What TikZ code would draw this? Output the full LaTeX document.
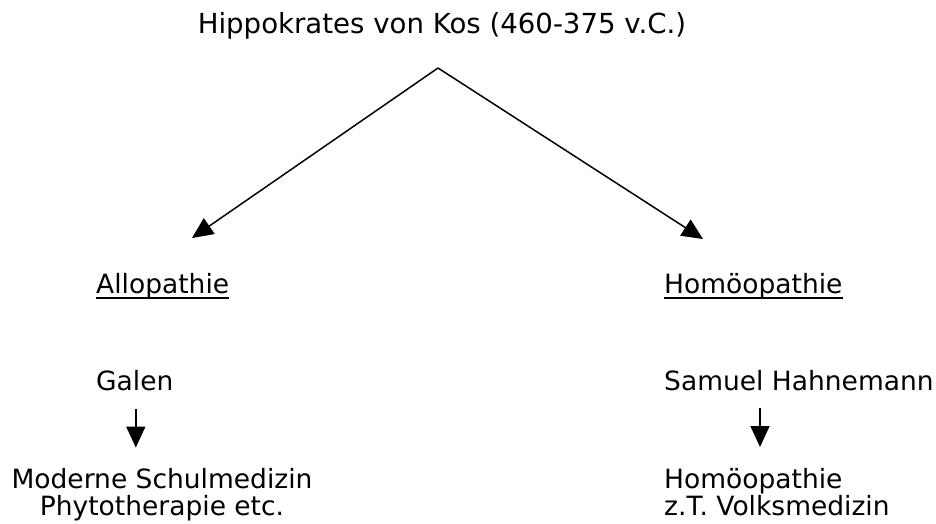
\documentclass[tikz,border=0pt]{standalone}
\usepackage{fontspec}
\setmainfont{DejaVu Sans}
\usetikzlibrary{arrows.meta}
\usetikzlibrary{calc,positioning}

\begin{document}
\begin{tikzpicture}[>={Triangle[length=21pt,width=19pt]}, x=1pt, y=-1pt,
    txt/.style = {inner sep=0pt, font=\fontsize{26.5}{33}\selectfont},
    arr/.style = {->, line width=1.5pt}]

    \useasboundingbox (0,0) rectangle (936,524);

    \node[txt, anchor=base, font=\fontsize{27.6}{33}\selectfont] (hippo) at (442,34) {Hippokrates von Kos (460-375 v.C.)};
    \coordinate (apex) at (438,68);

    \node[txt, anchor=base west] (allo) at (96,293) {Allopathie};
    \node[txt, anchor=base west] (homo) at (664,293) {Homöopathie};
    \draw[line width=2pt] ([yshift=-5pt]allo.base west) -- ([yshift=-5pt]allo.base east);
    \draw[line width=2pt] ([yshift=-5pt]homo.base west) -- ([yshift=-5pt]homo.base east);

    \draw[arr] (apex) -- ([xshift=96pt, yshift=55pt]allo.base west);
    \draw[arr] (apex) -- ([xshift=39pt, yshift=54pt]homo.base west);

    \node[txt, anchor=base west] (galen) at (96,390) {Galen};
    \node[txt, anchor=base west] (hahne) at (664,390) {Samuel Hahnemann};

    \draw[arr] ([xshift=1pt, yshift=-18pt]galen.south) -- ([xshift=1pt, yshift=-57pt]galen.south);
    \draw[arr] ([xshift=96pt, yshift=-18pt]hahne.base west) -- ([xshift=96pt, yshift=-57pt]hahne.base west);

    \node[txt, anchor=base] (schul) at (162,488) {Moderne Schulmedizin};
    \node[txt, anchor=base] (phyto) at (162,515) {Phytotherapie etc.};
    \node[txt, anchor=base west] (homo2) at (664,488) {Homöopathie};
    \node[txt, anchor=base west] (volks) at (664,515) {z.T. Volksmedizin};

\end{tikzpicture}
\end{document}
